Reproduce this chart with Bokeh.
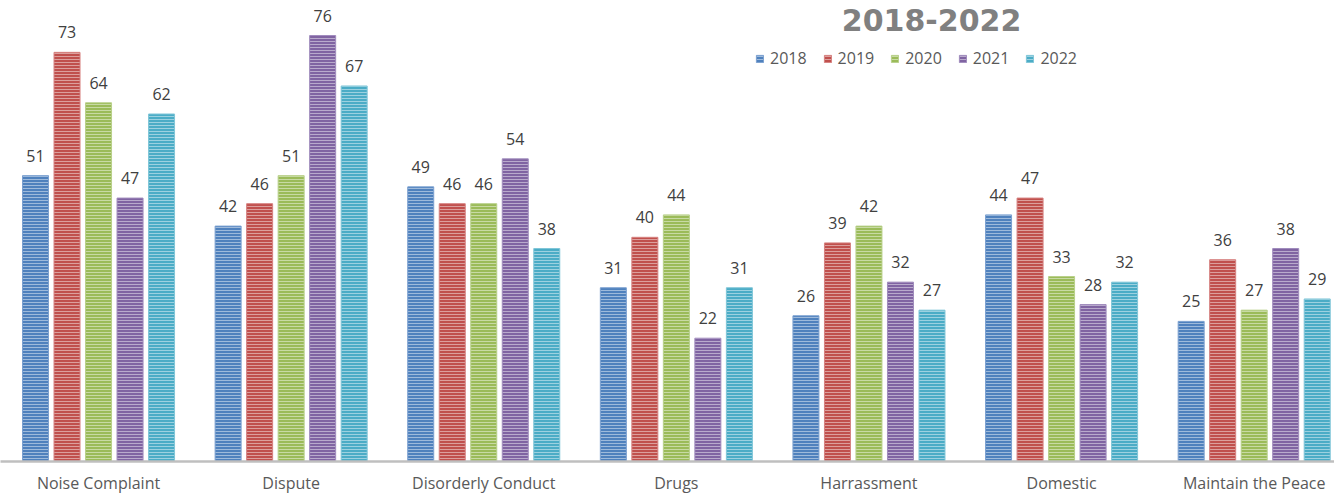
from bokeh.plotting import figure
from bokeh.models import ColumnDataSource, Legend, LegendItem, FixedTicker, Label, Range1d
from bokeh.core.properties import value
from bokeh.embed import file_html
from bokeh.resources import INLINE

categories = ["Noise Complaint", "Dispute", "Disorderly Conduct", "Drugs",
              "Harrassment", "Domestic", "Maintain the Peace"]
years = ["2018", "2019", "2020", "2021", "2022"]
v2018 = [51, 42, 49, 31, 26, 44, 25]
v2019 = [73, 46, 46, 40, 39, 47, 36]
v2020 = [64, 51, 46, 44, 42, 33, 27]
v2021 = [47, 76, 54, 22, 32, 28, 38]
v2022 = [62, 67, 38, 31, 27, 32, 29]
series = [v2018, v2019, v2020, v2021, v2022]
colors = ["#4f81bd", "#c0504d", "#9bbb59", "#8064a2", "#4bacc6"]
edge = ["#7ba0d0", "#d68280", "#b8d08a", "#a08cbd", "#80c6d8"]

FONT = "Open Sans"
stride = 0.1636
bw = 0.135

p = figure(width=1334, height=496, output_backend="svg", toolbar_location=None,
           x_range=Range1d(-0.509, 6.417), y_range=Range1d(0, 82.25),
           min_border_left=0, min_border_right=0, min_border_top=0, min_border_bottom=0)
p.outline_line_color = None
p.xgrid.visible = False
p.ygrid.visible = False
p.yaxis.visible = False
p.background_fill_color = "white"
p.border_fill_color = "white"

items = []
for j, (yr, vals) in enumerate(zip(years, series)):
    xs = [i + (j - 2) * stride for i in range(len(categories))]
    src = ColumnDataSource(dict(x=xs, top=vals, lab=[str(v) for v in vals]))
    r = p.vbar(x="x", top="top", width=bw, bottom=0, source=src,
               fill_color=colors[j], line_color=edge[j], line_width=1,
               hatch_pattern="horizontal_line", hatch_color="white",
               hatch_alpha=0.45, hatch_scale=3, hatch_weight=1)
    p.text(x="x", y="top", text="lab", source=src, y_offset=-20,
           text_align="center", text_baseline="alphabetic",
           text_font=value(FONT), text_font_size="16px", text_color="#404040")
    items.append(LegendItem(label=yr, renderers=[r]))

ax = p.xaxis[0]
ax.ticker = FixedTicker(ticks=list(range(len(categories))))
ax.major_label_overrides = {i: c for i, c in enumerate(categories)}
ax.major_tick_line_color = None
ax.minor_tick_line_color = None
ax.major_tick_out = 0
ax.major_label_standoff = 10
ax.axis_line_color = "#bfbfbf"
ax.axis_line_width = 2.5
ax.major_label_text_font = FONT
ax.major_label_text_font_size = "16px"
ax.major_label_text_color = "#595959"

legend = Legend(items=items, orientation="horizontal", location=(755, 392),
                glyph_width=9, glyph_height=9, label_standoff=6, spacing=16,
                padding=0, margin=0, border_line_color=None, background_fill_alpha=0,
                label_text_font=FONT, label_text_font_size="16px",
                label_text_color="#595959")
p.add_layout(legend)

title = Label(x=4.325, y=78.85, text="2018-2022", text_align="center",
              text_baseline="middle", text_font="DejaVu Sans",
              text_font_style="bold", text_font_size="30px", text_color="#808080")
p.add_layout(title)

open("out.html", "w").write(file_html(p, INLINE))
